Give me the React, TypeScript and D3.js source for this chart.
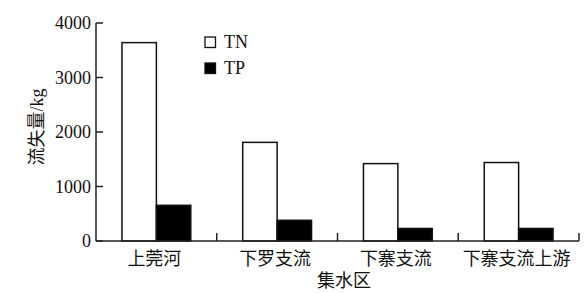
import React from "react";
import * as d3 from "d3";

const categories = ["上莞河", "下罗支流", "下寨支流", "下寨支流上游"];
const series = ["TN", "TP"];
const tnValues = [3640, 1810, 1420, 1440];
const tpValues = [655, 380, 230, 230];
const yTicks = [0, 1000, 2000, 3000, 4000];

const W = 587;
const H = 293;
const left = 96;
const right = 579;
const top = 23;
const bottom = 241;

export default function App() {
  const x0 = d3
    .scaleBand<string>()
    .domain(categories)
    .range([left, right])
    .paddingInner(0.43)
    .paddingOuter(0.215);
  const x1 = d3.scaleBand<string>().domain(series).range([0, x0.bandwidth()]);
  const y = d3.scaleLinear().domain([0, 4000]).range([bottom, top]);
  const step = x0.step();
  const numFont = "'Liberation Serif', 'Times New Roman', serif";
  const cjkFont = "'Noto Sans CJK SC', sans-serif";
  const data = [tnValues, tpValues];
  const fills = ["#ffffff", "#000000"];

  return (
    <svg
      width={W}
      height={H}
      style={{ position: "absolute", left: 0, top: 0, background: "#fff" }}
    >
      {categories.map((c, i) =>
        series.map((s, j) => {
          const v = data[j][i];
          return (
            <rect
              key={c + s}
              x={(x0(c) as number) + (x1(s) as number)}
              y={y(v)}
              width={x1.bandwidth()}
              height={y(0) - y(v)}
              fill={fills[j]}
              stroke="#111"
              strokeWidth={1.5}
            />
          );
        })
      )}
      {/* axes */}
      <line x1={left} x2={left} y1={y(4000)} y2={y(0)} stroke="#222" strokeWidth={1.5} />
      <line x1={left} x2={right} y1={y(0)} y2={y(0)} stroke="#222" strokeWidth={1.5} />
      {yTicks.map((t) => (
        <g key={t}>
          <line x1={left} x2={left + 7} y1={y(t)} y2={y(t)} stroke="#222" strokeWidth={1.5} />
          <text
            x={left - 5}
            y={y(t)}
            dy="0.35em"
            textAnchor="end"
            fontFamily={numFont}
            fontSize={18}
            fill="#111"
          >
            {t}
          </text>
        </g>
      ))}
      {categories.map((c) => {
        const bx = (x0(c) as number) + x0.bandwidth() / 2 + step / 2;
        return (
          <line key={"tk" + c} x1={bx} x2={bx} y1={y(0)} y2={y(0) - 8} stroke="#222" strokeWidth={1.5} />
        );
      })}
      {categories.map((c) => (
        <text
          key={"lb" + c}
          x={(x0(c) as number) + x0.bandwidth() / 2 - 2}
          y={265}
          textAnchor="middle"
          fontFamily={cjkFont}
          fontSize={18}
          fill="#111"
        >
          {c}
        </text>
      ))}
      <text x={344} y={287} textAnchor="middle" fontFamily={cjkFont} fontSize={18} fill="#111">
        集水区
      </text>
      <text
        transform="translate(43,127) rotate(-90)"
        textAnchor="middle"
        fontFamily={cjkFont}
        fontSize={18}
        fill="#111"
      >
        流失量<tspan fontFamily={numFont}>/kg</tspan>
      </text>
      {/* legend */}
      {series.map((s, j) => (
        <g key={"lg" + s} transform={`translate(205,${37 + j * 26})`}>
          <rect x={0} y={0} width={10.5} height={10.5} fill={fills[j]} stroke="#111" strokeWidth={1.3} />
          <text x={19} y={10.5} fontFamily={numFont} fontSize={18} fill="#111">
            {s}
          </text>
        </g>
      ))}
    </svg>
  );
}
